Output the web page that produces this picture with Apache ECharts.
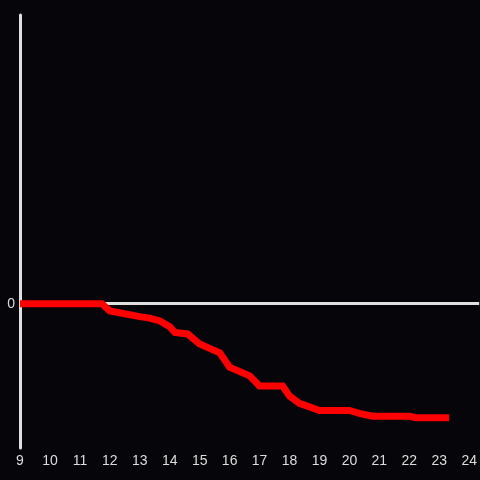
<!DOCTYPE html>
<html>
<head>
<meta charset="utf-8">
<script src="https://cdn.jsdelivr.net/npm/echarts@6/dist/echarts.min.js"></script>
<style>html,body{margin:0;padding:0;background:#060509;}#main{width:480px;height:480px;}</style>
</head>
<body>
<div id="main"></div>
<script>
// hours of day (x) and values (y)
var hours  = [9, 11.73, 12.0, 13.0, 13.33, 13.67, 14.0, 14.17, 14.6, 15.0, 15.33, 15.67, 16.0, 16.67, 17.0, 17.77, 18.0, 18.33, 19.0, 20.0, 20.33, 20.77, 22.0, 22.23, 23.33];
var values = [0, 0, -0.05, -0.09, -0.10, -0.12, -0.16, -0.20, -0.21, -0.28, -0.31, -0.34, -0.44, -0.50, -0.57, -0.57, -0.64, -0.69, -0.74, -0.74, -0.76, -0.78, -0.78, -0.79, -0.79];
var yTickLabels = ['0'];

var chart = echarts.init(document.getElementById('main'));
var pts = hours.map(function(h, i){ return [h, values[i]]; });
var option = {
	backgroundColor: '#060509',
	animation: false,
	grid: {left: 20, right: 0, top: 15, bottom: 32},
	xAxis: {
		type: 'value', min: 9, max: 24.333, interval: 1,
		axisLine: {show: false}, axisTick: {show: false}, splitLine: {show: false},
		axisLabel: {color: '#dddddd', fontSize: 14, fontFamily: 'Liberation Sans', margin: 6, showMaxLabel: false,
			formatter: function(v){ return Number.isInteger(v) ? String(v) : ''; }}
	},
	yAxis: {
		type: 'value', min: -1, max: 2, interval: 1,
		axisLine: {show: true, lineStyle: {color: '#e0e0e0', width: 3}},
		axisTick: {show: false},
		splitLine: {show: true, lineStyle: {color: ['rgba(0,0,0,0)', '#e0e0e0', 'rgba(0,0,0,0)', 'rgba(0,0,0,0)'], width: 3}},
		axisLabel: {color: '#dddddd', fontSize: 14, fontFamily: 'Liberation Sans', margin: 5,
			formatter: function(v){ return yTickLabels.indexOf(String(v)) >= 0 ? String(v) : ''; }}
	},
	series: [{
		type: 'line', data: pts, showSymbol: false, symbol: 'none',
		lineStyle: {color: '#ff0000', width: 7, join: 'miter'}
	}]
};
chart.setOption(option);
</script>
</body>
</html>
